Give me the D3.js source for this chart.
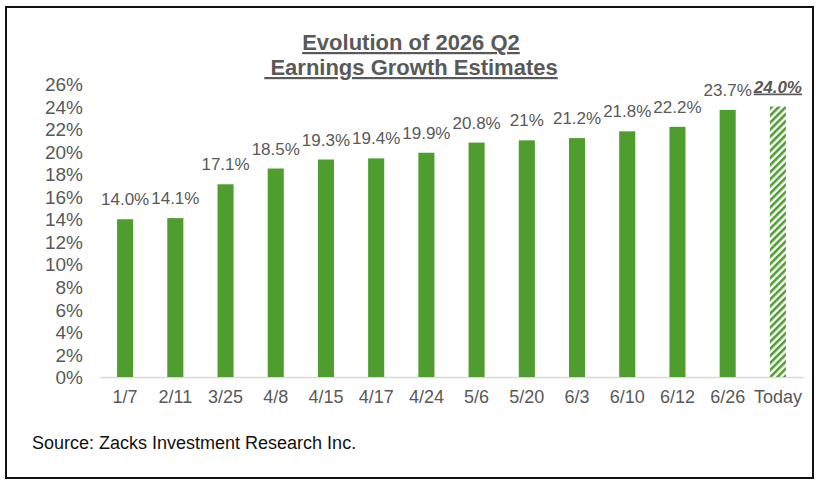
<!DOCTYPE html>
<html>
<head>
<meta charset="utf-8">
<script src="https://cdn.jsdelivr.net/npm/d3@7"></script>
<style>
  body { margin: 0; background: #fff; }
  text { font-family: "Liberation Sans", Arial, sans-serif; }
</style>
</head>
<body>
<svg id="chart" width="819" height="488"></svg>
<script>
// data
var dates = ["1/7", "2/11", "3/25", "4/8", "4/15", "4/17", "4/24", "5/6", "5/20", "6/3", "6/10", "6/12", "6/26", "Today"];
var growth = [14.0, 14.1, 17.1, 18.5, 19.3, 19.4, 19.9, 20.8, 21.0, 21.2, 21.8, 22.2, 23.7, 24.0];
var valueLabels = ["14.0%", "14.1%", "17.1%", "18.5%", "19.3%", "19.4%", "19.9%", "20.8%", "21%", "21.2%", "21.8%", "22.2%", "23.7%", "24.0%"];
var yTicks = [0, 2, 4, 6, 8, 10, 12, 14, 16, 18, 20, 22, 24, 26];
var titleLines = ["Evolution of 2026 Q2", " Earnings Growth Estimates"];
var sourceText = "Source: Zacks Investment Research Inc.";

var svg = d3.select("#chart");
var gray = "#595959";
var green = "#4f9d2f";

// frame
svg.append("rect")
    .attr("x", 6).attr("y", 7)
    .attr("width", 807).attr("height", 471)
    .attr("fill", "#fff")
    .attr("stroke", "#111")
    .attr("stroke-width", 2);

// hatch pattern for today's bar
var defs = svg.append("defs");
var pat = defs.append("pattern")
    .attr("id", "hatch")
    .attr("patternUnits", "userSpaceOnUse")
    .attr("width", 5).attr("height", 5)
    .attr("patternTransform", "rotate(45)");
pat.append("rect").attr("width", 5).attr("height", 5).attr("fill", "#fff");
pat.append("rect").attr("width", 2.6).attr("height", 5).attr("fill", green);

var x = d3.scaleBand()
    .domain(dates)
    .range([100, 803])
    .paddingInner(0.68)
    .paddingOuter(0.34);

var y = d3.scaleLinear()
    .domain([0, 26])
    .range([377, 84]);

// title
var title = svg.append("text")
    .attr("text-anchor", "middle")
    .attr("font-size", 22)
    .attr("font-weight", "bold")
    .attr("fill", gray)
    .attr("text-decoration", "underline");
titleLines.forEach(function (t, i) {
    title.append("tspan")
        .attr("x", 411)
        .attr("y", 50 + i * 25)
        .attr("xml:space", "preserve")
        .text(t);
});

// y axis labels
var yAxis = d3.axisLeft(y)
    .tickValues(yTicks)
    .tickFormat(function (d) { return d + "%"; })
    .tickSize(0)
    .tickPadding(0);
var yg = svg.append("g")
    .attr("transform", "translate(83,0)")
    .call(yAxis);
yg.select(".domain").remove();
yg.selectAll("text")
    .attr("font-size", 19)
    .attr("dy", "0.35em")
    .attr("fill", gray)
    .style("font-family", "Liberation Sans, Arial, sans-serif");

// x axis
var xAxis = d3.axisBottom(x).tickSize(0).tickPadding(13);
var xg = svg.append("g")
    .attr("transform", "translate(0," + y(0) + ")")
    .call(xAxis);
xg.select(".domain").attr("stroke", "#d9d9d9").attr("stroke-width", 1.5);
xg.selectAll("text")
    .attr("font-size", 18)
    .attr("fill", gray)
    .style("font-family", "Liberation Sans, Arial, sans-serif");

// bars
var last = dates.length - 1;
svg.append("g").selectAll("rect")
    .data(growth)
    .join("rect")
    .attr("x", function (d, i) { return x(dates[i]); })
    .attr("y", function (d) { return y(d); })
    .attr("width", x.bandwidth())
    .attr("height", function (d) { return y(0) - y(d); })
    .attr("fill", function (d, i) { return i === last ? "url(#hatch)" : green; });

// value labels
svg.append("g").selectAll("text")
    .data(growth)
    .join("text")
    .attr("x", function (d, i) { return x(dates[i]) + x.bandwidth() / 2; })
    .attr("y", function (d) { return y(d) - 14; })
    .attr("text-anchor", "middle")
    .attr("font-size", 17)
    .attr("fill", gray)
    .attr("font-weight", function (d, i) { return i === last ? "bold" : null; })
    .attr("font-style", function (d, i) { return i === last ? "italic" : null; })
    .attr("text-decoration", function (d, i) { return i === last ? "underline" : null; })
    .text(function (d, i) { return valueLabels[i]; });

// source
svg.append("text")
    .attr("x", 32)
    .attr("y", 449)
    .attr("font-size", 18)
    .attr("fill", "#111")
    .text(sourceText);
</script>
</body>
</html>
